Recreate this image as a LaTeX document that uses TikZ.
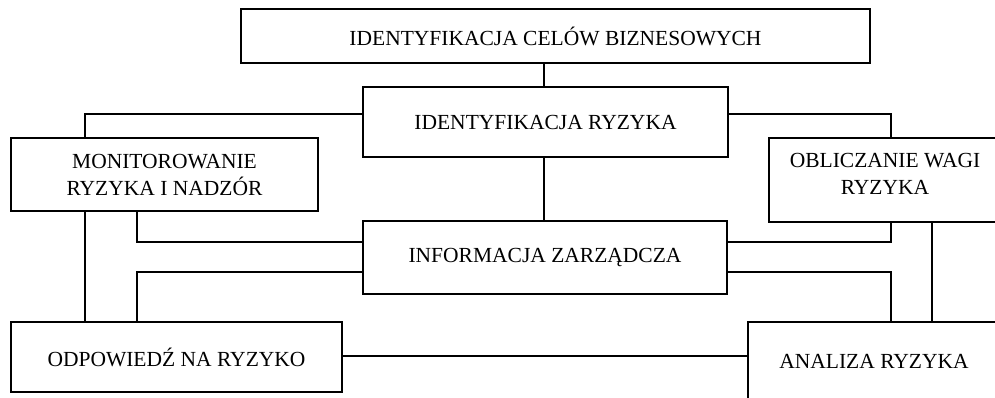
\documentclass[tikz,border=0pt]{standalone}
\usepackage{fontspec}
\setmainfont{Liberation Serif}
\usetikzlibrary{calc}
\begin{document}
\begin{tikzpicture}[x=1pt,y=-1pt,
  box/.style={draw=black, line width=1.2pt, rectangle, align=center, inner sep=0pt,
    font=\fontsize{21.5}{27}\selectfont},
  txt/.style={align=center, inner sep=0pt, font=\fontsize{21.5}{27}\selectfont},
  conn/.style={draw=black, line width=1.2pt}]
\useasboundingbox (0,0) rectangle (995,397);
\clip (0,0) rectangle (995,397);
\fill[white] (0,0) rectangle (995,397);
\node[box, minimum width=629pt, minimum height=54pt] (top) at (555.5,36) {IDENTYFIKACJA CELÓW BIZNESOWYCH};
\node[box, minimum width=365pt, minimum height=70pt] (ir) at (545.5,122) {IDENTYFIKACJA RYZYKA};
\node[box, minimum width=307pt, minimum height=73pt] (mon) at (164.5,174.5) {MONITOROWANIE\\RYZYKA I NADZÓR};
\node[box, minimum width=232pt, minimum height=84pt] (obl) at (885,180) {};
\node[txt] (oblt) at (885,173.5) {OBLICZANIE WAGI\\RYZYKA};
\node[box, minimum width=364pt, minimum height=73pt] (inf) at (545,257.5) {INFORMACJA ZARZĄDCZA};
\node[box, minimum width=331pt, minimum height=70pt] (odp) at (176.5,357) {ODPOWIEDŹ NA RYZYKO};
\node[box, minimum width=252pt, minimum height=78pt] (ana) at (874,361) {ANALIZA RYZYKA};

\draw[conn] (ir.north -| 544,0) -- (top.south -| 544,0);
\draw[conn] (ir.south -| 544,0) -- (inf.north -| 544,0);
\draw[conn] (ir.west |- 0,114) -| (mon.north -| 85,0);
\draw[conn] (ir.east |- 0,114) -| (obl.north -| 891,0);
\draw[conn] (mon.south -| 85,0) -- (odp.north -| 85,0);
\draw[conn] (mon.south -| 137,0) |- (inf.west |- 0,242);
\draw[conn] (inf.west |- 0,272) -| (odp.north -| 137,0);
\draw[conn] (inf.east |- 0,242) -| (obl.south -| 891,0);
\draw[conn] (inf.east |- 0,272) -| (ana.north -| 891,0);
\draw[conn] (obl.south -| 932,0) -- (ana.north -| 932,0);
\draw[conn] (odp.east |- 0,356) -- (ana.west |- 0,356);
\end{tikzpicture}
\end{document}
